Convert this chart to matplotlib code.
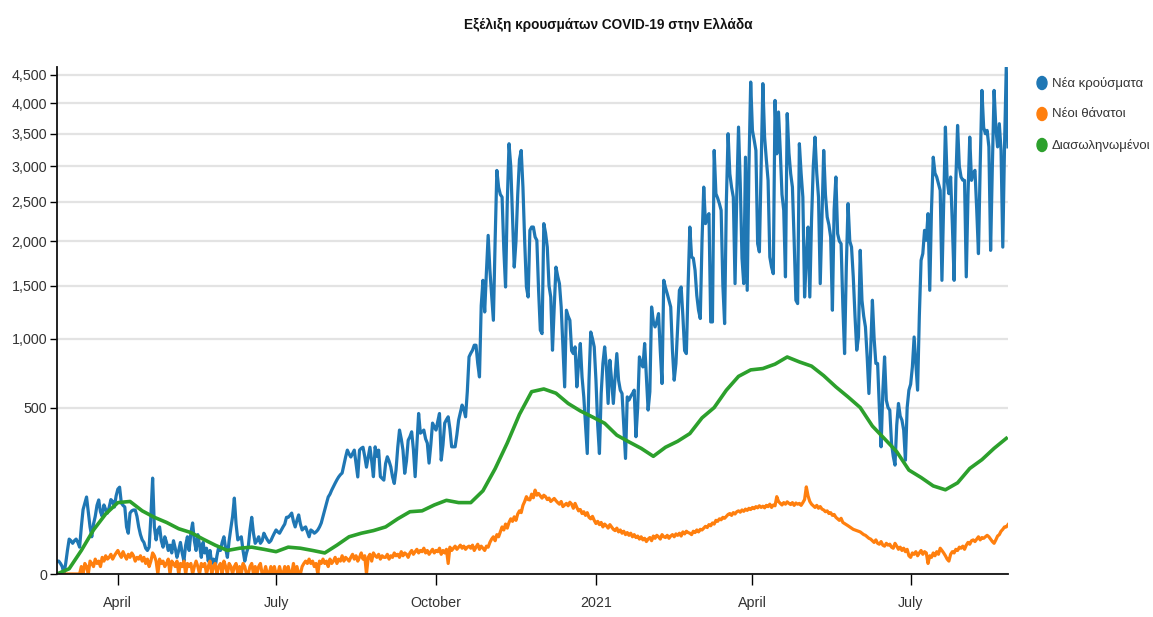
import numpy as np
import pandas as pd
import matplotlib
matplotlib.use("Agg")
import matplotlib.pyplot as plt
from matplotlib import font_manager
from matplotlib.patches import Ellipse
from matplotlib.ticker import FuncFormatter

# daily series, first day 2020-02-26
start = "2020-02-26"

new_cases = [
    3, 3, 2, 1, 0, 2, 10,
    22, 20, 17, 20, 22, 18, 13,
    40, 75, 90, 107, 70, 40, 25,
    45, 60, 85, 99, 70, 60, 86,
    75, 67, 80, 100, 95, 81, 110,
    130, 136, 91, 85, 81, 40, 30,
    67, 72, 74, 74, 60, 40, 28,
    21, 18, 12, 10, 13, 60, 166,
    40, 21, 35, 40, 20, 13, 25,
    18, 10, 15, 8, 20, 12, 5,
    10, 18, 8, 3, 15, 25, 10,
    30, 47, 20, 10, 28, 15, 5,
    18, 8, 12, 3, 10, 2, 4,
    1, 6, 13, 10, 18, 25, 12,
    5, 20, 38, 60, 104, 45, 21,
    23, 25, 10, 3, 8, 13, 35,
    58, 30, 17, 20, 25, 17, 20,
    30, 25, 21, 18, 20, 25, 30,
    35, 32, 30, 35, 40, 45, 58,
    58, 62, 67, 50, 40, 52, 63,
    45, 35, 38, 40, 32, 25, 35,
    33, 30, 32, 35, 40, 47, 60,
    74, 90, 107, 115, 127, 138, 149,
    160, 170, 178, 184, 215, 247, 277,
    260, 247, 262, 277, 220, 170, 277,
    285, 290, 250, 206, 245, 290, 230,
    171, 292, 250, 277, 171, 165, 159,
    220, 248, 230, 207, 170, 148, 195,
    290, 374, 330, 277, 183, 230, 323,
    340, 365, 280, 171, 300, 465, 358,
    365, 374, 330, 309, 222, 300, 411,
    390, 374, 420, 465, 234, 300, 411,
    430, 446, 380, 292, 292, 292, 350,
    427, 470, 515, 490, 446, 600, 851,
    880, 904, 945, 945, 800, 701, 1300,
    1557, 1239, 1650, 2070, 1665, 1400, 1162,
    2000, 2940, 2700, 2600, 2564, 1900, 1487,
    2500, 3342, 3000, 2300, 1700, 2000, 2600,
    3100, 3238, 2700, 2000, 1487, 1385, 2132,
    2173, 2173, 2050, 2010, 1453, 1073, 1043,
    2216, 2100, 1928, 1500, 1385, 904, 1287,
    1700, 1600, 1522, 1287, 931, 632, 1256,
    1200, 1162, 900, 877, 931, 632, 800,
    959, 700, 566, 400, 262, 678, 1057,
    1000, 931, 678, 400, 262, 588, 800,
    931, 774, 525, 825, 678, 525, 700,
    877, 678, 610, 588, 400, 241, 566,
    546, 570, 588, 610, 340, 500, 851,
    800, 774, 959, 700, 485, 600, 1287,
    1150, 1102, 1150, 1224, 900, 655, 1557,
    1480, 1418, 1350, 1287, 900, 678, 800,
    1100, 1453, 1487, 1200, 900, 877, 1500,
    2173, 1814, 1800, 1665, 1400, 1256, 1178,
    2000, 2702, 2216, 2300, 2344, 1147, 1147,
    3238, 2611, 2550, 2476, 2388, 1500, 1132,
    2500, 3499, 2892, 2700, 2564, 1522, 2600,
    3605, 2749, 1800, 1522, 3136, 1453, 3000,
    4368, 3552, 3400, 3238, 1969, 1873, 3000,
    4340, 3445, 3100, 2797, 1814, 1700, 1628,
    4048, 3187, 3853, 3238, 2600, 2388, 1594,
    3826, 3200, 2892, 2702, 2000, 1353, 1320,
    3342, 2900, 2564, 1385, 1800, 2173, 1385,
    2258, 3000, 3445, 2900, 2564, 1522, 2300,
    3238, 2600, 2301, 2200, 2049, 1256, 2400,
    2845, 2090, 2000, 1969, 1300, 877, 1700,
    2476, 2000, 1929, 1594, 1200, 904, 1014,
    1891, 1353, 1200, 1102, 850, 588, 900,
    1353, 1000, 800, 800, 500, 292, 600,
    851, 546, 500, 485, 308, 250, 214,
    400, 525, 450, 427, 374, 234, 500,
    610, 650, 774, 1014, 800, 610, 1200,
    1776, 1853, 2132, 2010, 2344, 1453, 2400,
    3136, 2900, 2845, 2750, 2657, 1557, 2500,
    3605, 2800, 2611, 2845, 2200, 1557, 2800,
    3632, 3000, 2845, 2800, 2797, 1594, 2600,
    3445, 2797, 2900, 2941, 2400, 1853, 3000,
    4221, 3600, 3499, 3552, 3293, 1891, 3000,
    4221, 3600, 3293, 3660, 3238, 1929, 3300,
    4634, 3293,
]

new_deaths = [
    0, 0, 0, 0, 0, 0, 0,
    0, 0, 0, 0, 0, 0, 0,
    1, 0, 2, 1, 0, 3, 2,
    1, 4, 2, 3, 1, 5, 3,
    6, 4, 5, 7, 4, 6, 8,
    10, 7, 5, 9, 6, 4, 7,
    5, 8, 6, 3, 5, 4, 6,
    3, 5, 2, 4, 1, 3, 8,
    6, 3, 0, 4, 2, 3, 1,
    2, 4, 0, 3, 2, 1, 3,
    0, 2, 1, 3, 0, 2, 1,
    2, 0, 1, 3, 1, 0, 2,
    1, 2, 0, 1, 3, 0, 1,
    2, 0, 1, 2, 0, 3, 1,
    0, 2, 1, 0, 1, 2, 0,
    1, 0, 2, 1, 0, 0, 1,
    2, 0, 1, 0, 1, 2, 0,
    0, 1, 0, 0, 1, 0, 1,
    0, 0, 1, 0, 0, 1, 0,
    1, 0, 0, 2, 0, 1, 0,
    0, 1, 2, 3, 2, 4, 2,
    3, 1, 2, 0, 3, 2, 4,
    2, 3, 1, 4, 2, 3, 5,
    2, 4, 3, 6, 3, 5, 4,
    3, 5, 7, 4, 6, 3, 5,
    8, 4, 6, 0, 5, 7, 3,
    8, 6, 5, 7, 4, 6, 5,
    5, 7, 4, 6, 5, 8, 6,
    7, 5, 9, 6, 8, 7, 5,
    8, 10, 7, 9, 11, 8, 10,
    9, 12, 8, 10, 7, 9, 11,
    8, 10, 9, 12, 7, 10, 8,
    11, 2, 13, 10, 12, 14, 11,
    13, 15, 12, 14, 11, 13, 14,
    12, 15, 10, 13, 16, 11, 14,
    12, 10, 14, 13, 18, 22, 25,
    20, 28, 25, 32, 40, 35, 45,
    38, 48, 55, 50, 59, 52, 65,
    72, 68, 85, 95, 108, 100, 99,
    115, 105, 127, 112, 117, 110, 104,
    112, 108, 100, 104, 95, 99, 103,
    97, 92, 88, 95, 82, 86, 90,
    84, 93, 88, 78, 90, 80, 72,
    75, 66, 70, 62, 68, 58, 55,
    60, 52, 46, 50, 44, 48, 40,
    45, 42, 38, 44, 40, 36, 34,
    38, 32, 35, 30, 33, 28, 31,
    27, 30, 25, 28, 24, 26, 22,
    25, 21, 23, 19, 22, 24, 20,
    26, 23, 27, 25, 22, 28, 25,
    24, 27, 23, 26, 28, 25, 29,
    27, 30, 26, 32, 29, 33, 31,
    30, 28, 33, 31, 35, 32, 36,
    35, 38, 41, 39, 44, 42, 47,
    45, 52, 50, 55, 53, 58, 56,
    60, 64, 66, 62, 68, 65, 70,
    72, 69, 74, 71, 76, 73, 78,
    75, 80, 77, 82, 79, 84, 80,
    83, 79, 85, 82, 88, 80, 86,
    84, 108, 95, 90, 86, 92, 88,
    94, 90, 87, 92, 85, 91, 88,
    90, 85, 92, 100, 137, 110, 95,
    88, 84, 80, 85, 78, 82, 76,
    74, 70, 72, 66, 68, 62, 64,
    58, 55, 52, 56, 48, 46, 44,
    42, 40, 38, 36, 35, 34, 33,
    32, 30, 28, 27, 25, 23, 22,
    20, 18, 21, 17, 16, 19, 15,
    14, 17, 15, 16, 13, 12, 17,
    14, 11, 13, 10, 12, 9, 11,
    6, 5, 8, 7, 9, 6, 8,
    10, 7, 9, 8, 2, 6, 5,
    8, 6, 9, 7, 12, 10, 8,
    6, 4, 3, 7, 9, 8, 11,
    10, 13, 12, 14, 11, 15, 18,
    16, 20, 21, 19, 22, 25, 21,
    24, 23, 25, 27, 25, 22, 19,
    17, 21, 26, 28, 33, 36, 40,
    40, 44,
]

# intubated, one value every 7 days from the same start
intubated = [
    0, 0.5, 10, 35, 65, 92, 95, 72, 58, 48, 37, 31, 22, 15, 10, 12, 13, 11, 9, 13,
    12, 10, 8, 15, 25, 30, 34, 40, 55, 70, 72, 86, 98, 92, 92, 125, 200, 310, 460, 600,
    618, 590, 525, 480, 445, 410, 348, 315, 285, 250, 290, 318, 356, 440, 500, 610, 705, 752, 762, 795,
    850, 812, 780, 710, 632, 566, 500, 395, 330, 270, 195, 168, 140, 128, 150, 201, 236, 285, 332,
]

series_names = ["Νέα κρούσματα", "Νέοι θάνατοι", "Διασωληνωμένοι"]
series_colors = ["#1f77b4", "#ff7f0e", "#2ca02c"]

month_ticks = ["2020-04-01", "2020-07-01", "2020-10-01", "2021-01-01", "2021-04-01", "2021-07-01"]
month_labels = ["April", "July", "October", "2021", "April", "July"]
y_ticks = list(range(0, 5000, 500))

days = pd.date_range(start, periods=len(new_cases), freq="D")
weeks = pd.date_range(start, periods=len(intubated), freq="7D")

# narrow font if it is there, else plain Liberation Sans a bit smaller
names = {f.name for f in font_manager.fontManager.ttflist}
if "Liberation Sans Narrow" in names:
    fam, k = ["Liberation Sans Narrow", "DejaVu Sans"], 1.0
else:
    fam, k = ["Liberation Sans", "DejaVu Sans"], 0.82
plt.rcParams["font.family"] = fam

W, H = 1153, 617
fig = plt.figure(figsize=(W / 100, H / 100), dpi=100)
ax = fig.add_axes([57 / W, 1 - 574 / H, (1008 - 57) / W, (574 - 67) / H])

ax.set_yscale("function", functions=(lambda v: np.sqrt(np.clip(v, 0, None)), lambda v: np.square(v)))

ax.plot(days, new_cases, color=series_colors[0], lw=2.3, solid_joinstyle="round")
ax.plot(days, new_deaths, color=series_colors[1], lw=2.3, solid_joinstyle="round")
ax.plot(weeks, intubated, color=series_colors[2], lw=2.6, solid_joinstyle="round")

ax.set_xlim(pd.Timestamp(start), days[-1])
ax.set_ylim(0, 4640)

ax.set_yticks(y_ticks)
ax.yaxis.set_major_formatter(FuncFormatter(lambda v, p: "{:,}".format(int(v))))
ax.set_xticks([pd.Timestamp(t) for t in month_ticks])
ax.set_xticklabels(month_labels)
ax.minorticks_off()

ax.grid(axis="y", color="#e3e3e3", lw=1.6)
ax.set_axisbelow(True)
for s in ["top", "right"]:
    ax.spines[s].set_visible(False)
for s in ["left", "bottom"]:
    ax.spines[s].set_linewidth(1.3)
    ax.spines[s].set_color("#111111")
ax.tick_params(axis="y", length=5, width=1, pad=2, labelsize=12.5 * k, labelcolor="#333333")
ax.tick_params(axis="x", length=8, width=1, pad=8, labelsize=12.5 * k, labelcolor="#333333")

fig.text(608 / W, 1 - 25 / H, "Εξέλιξη κρουσμάτων COVID-19 στην Ελλάδα",
         ha="center", va="center", fontsize=12 * k, fontweight="bold", color="#111111")

for i in range(3):
    yy = 1 - (83 + 31 * i) / H
    fig.add_artist(Ellipse((1042 / W, yy), 10 / W, 13 / H, color=series_colors[i],
                           transform=fig.transFigure))
    fig.text(1052 / W, yy, series_names[i], ha="left", va="center",
             fontsize=11.5 * k, color="#333333")

fig.savefig("out.png", dpi=100)
